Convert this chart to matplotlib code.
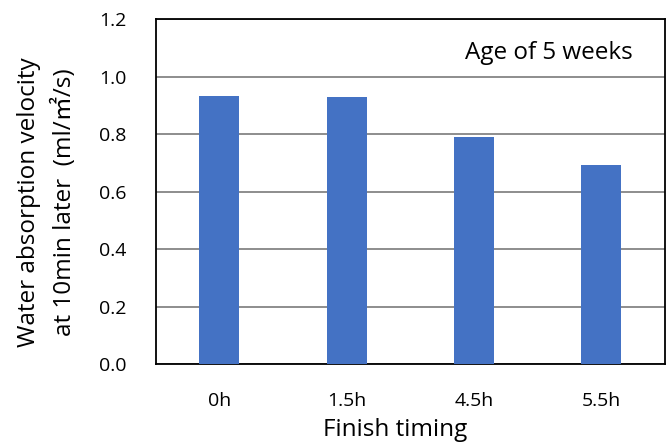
import matplotlib

matplotlib.use("Agg")
import matplotlib.pyplot as plt
import numpy as np

# water absorption velocity 10 min after start, by finish timing
timings = ["0h", "1.5h", "4.5h", "5.5h"]
velocity = [0.933, 0.930, 0.792, 0.692]
yticks = [0.0, 0.2, 0.4, 0.6, 0.8, 1.0, 1.2]

plt.rcParams["font.family"] = ["Open Sans", "Noto Sans CJK JP", "DejaVu Sans"]

fig = plt.figure(figsize=(6.67, 4.45), dpi=100)
ax = fig.add_axes([0.2334, 0.1813, 0.7636, 0.7753])

x = np.arange(len(timings))
ax.bar(x, velocity, width=0.314, color="#4472C4", zorder=3)

ax.set_xlim(-0.5, len(timings) - 0.5)
ax.set_ylim(0, 1.2)
ax.set_yticks(yticks)
ax.set_yticklabels([f"{v:.1f}" for v in yticks])
ax.set_xticks(x)
ax.set_xticklabels(timings)
ax.tick_params(length=0, labelsize=14, pad=21)
ax.tick_params(axis="x", pad=20)
ax.yaxis.grid(True, color="#7a7a7a", lw=1.2, zorder=0)

for side in ax.spines.values():
    side.set_color("black")
    side.set_linewidth(1.3)

ax.set_xlabel("Finish timing", fontsize=17.5, labelpad=6)
ax.xaxis.set_label_coords(0.47, -0.155)
ax.set_ylabel("Water absorption velocity\nat 10min later  (ml/㎡/s)", fontsize=17.5,
              linespacing=1.55)
ax.yaxis.set_label_coords(-0.155, 0.47)
ax.text(0.937, 0.884, "Age of 5 weeks", transform=ax.transAxes, ha="right",
        va="baseline", fontsize=17.5)

fig.savefig("out.png", dpi=100)
